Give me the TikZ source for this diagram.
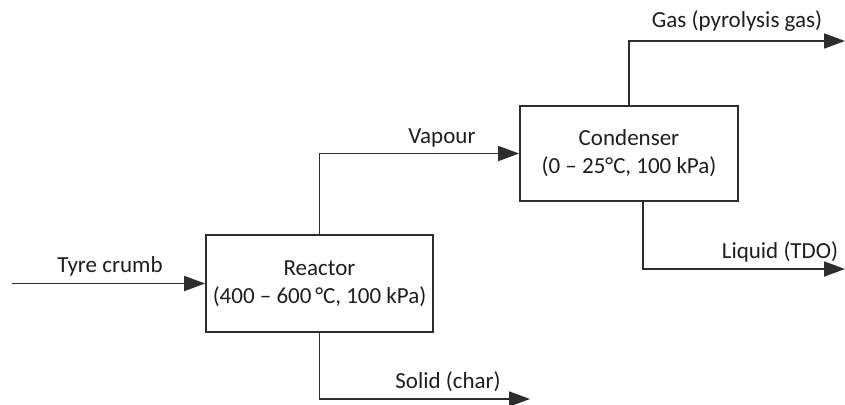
\documentclass[tikz,border=0pt]{standalone}
\usepackage{fontspec}
\setmainfont{Carlito}
\usetikzlibrary{arrows.meta,calc}
\definecolor{linec}{RGB}{45,45,45}
\definecolor{textc}{RGB}{30,30,30}
\begin{document}
\begin{tikzpicture}[x=1pt,y=-1pt,
  unitbox/.style={draw=linec,line width=1.8pt,rectangle,align=center,text=textc,
    font=\fontsize{23}{28}\selectfont,inner sep=0pt},
  flow/.style={draw=linec,line width=1.8pt,-{Triangle[length=21pt,width=15pt]}},
  lbl/.style={text=textc,font=\fontsize{23}{27}\selectfont,anchor=base,inner sep=0pt}]
\useasboundingbox (0,0) rectangle (845,404);
\node[unitbox,minimum width=227pt,minimum height=97pt] (reactor) at (319.5,283.5)
  {Reactor\\(400 -- 600\,°C, 100 kPa)};
\node[unitbox,minimum width=218pt,minimum height=95pt] (condenser) at (629,153.5)
  {Condenser\\(0 -- 25°C, 100 kPa)};
\coordinate (feed) at (12,283.5);
\coordinate (gasend) at (845,41);
\coordinate (liqtop) at (643,201);
\coordinate (liqend) at (845,269);
\coordinate (solend) at (530,399);
\draw[flow] (feed) -- (reactor.west);
\draw[flow] (reactor.north) |- (condenser.west);
\draw[flow] (condenser.north) |- (gasend);
\draw[flow] (liqtop) |- (liqend);
\draw[flow] (reactor.south) |- (solend);
\node[lbl] (ltyre) at (110,272.5) {Tyre crumb};
\node[lbl] (lvap) at (442,143) {Vapour};
\node[lbl] (lgas) at (737,28) {Gas (pyrolysis gas)};
\node[lbl] (lliq) at (780,258) {Liquid (TDO)};
\node[lbl] (lsol) at (448,388) {Solid (char)};
\end{tikzpicture}
\end{document}
